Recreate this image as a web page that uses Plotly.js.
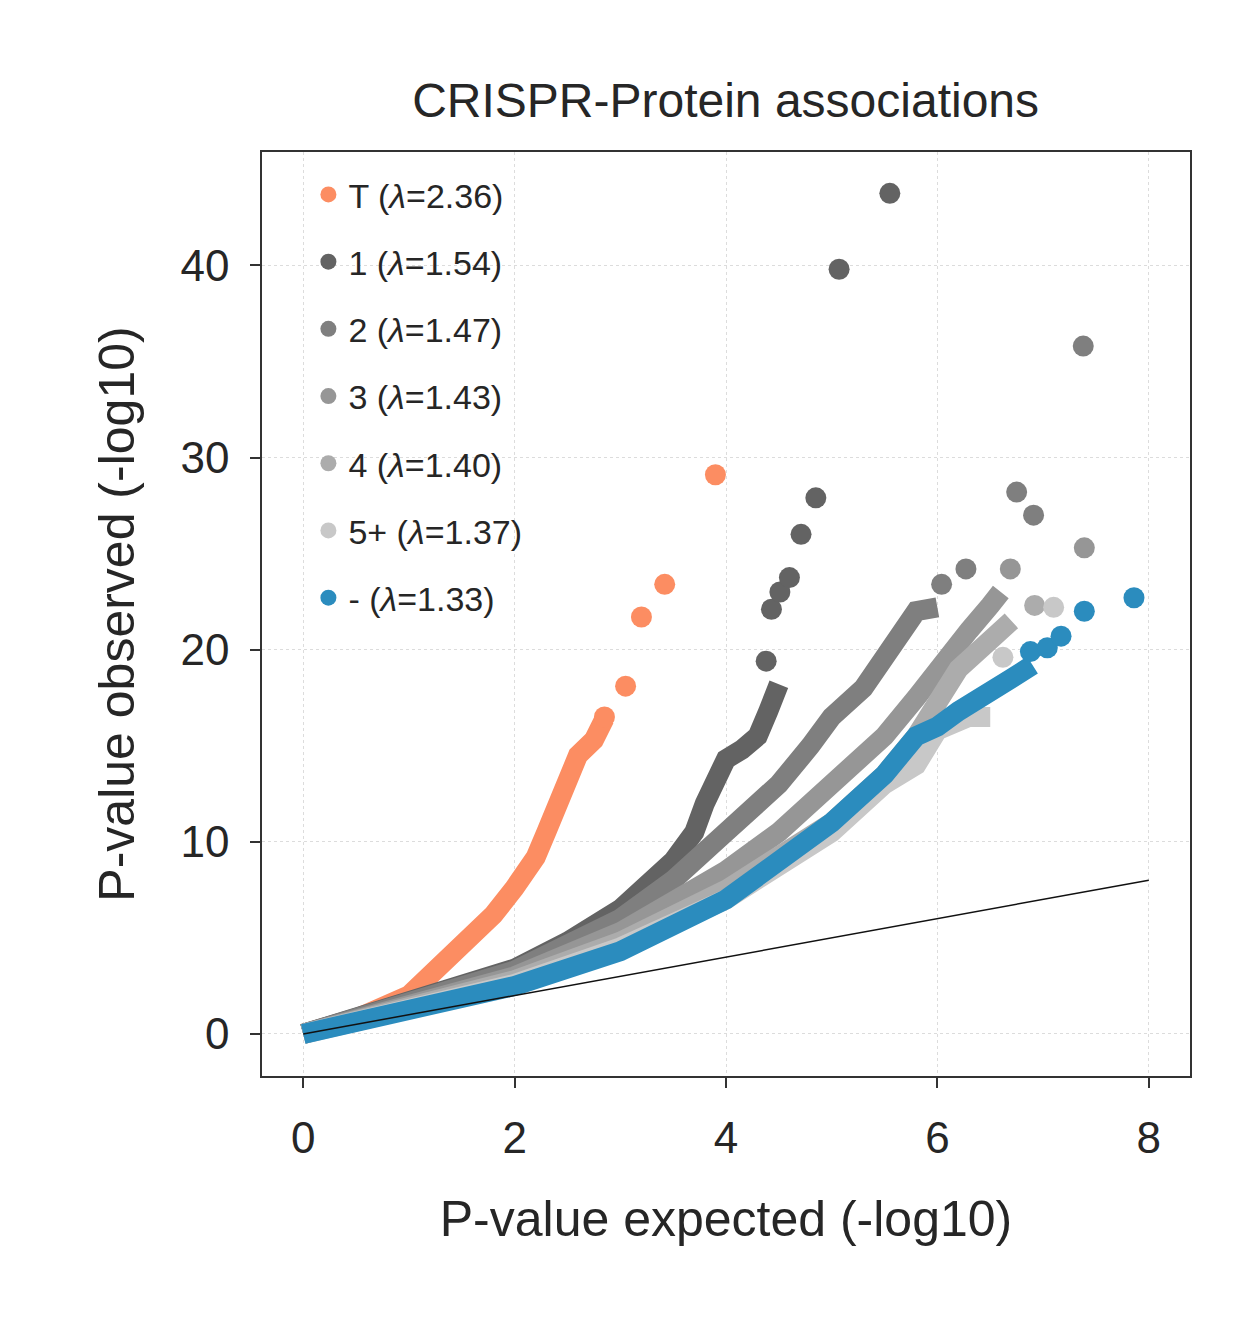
<!DOCTYPE html>
<html>
<head>
<meta charset="utf-8">
<script src="https://cdn.plot.ly/plotly-3.0.1.min.js"></script>
<style>body{margin:0;background:#fff}</style>
</head>
<body>
<div id="qqDiv" style="width:1251px;height:1326px"></div>
<script>
// series names, colours and lambda values
const names = ['T', '1', '2', '3', '4', '5+', '-'];
const lambdas = ['2.36', '1.54', '1.47', '1.43', '1.40', '1.37', '1.33'];
const colors = ['#fc8d62', '#636363', '#7f7f7f', '#969696', '#acacac', '#c8c8c8', '#2b8cbe'];

// dense part of each QQ curve (expected, observed)
const denseX = [
  [0, 0.5, 1, 1.3, 1.5, 1.8, 2.0, 2.2, 2.3, 2.4, 2.5, 2.6, 2.75, 2.85],
  [0, 1, 2, 2.5, 3, 3.5, 3.7, 3.8, 3.9, 4.0, 4.15, 4.3, 4.4, 4.5],
  [0, 2, 3, 3.5, 4, 4.5, 4.8, 5, 5.3, 5.5, 5.7, 5.8, 6.0],
  [0, 2, 3, 4, 4.5, 5, 5.5, 5.8, 6, 6.3, 6.5, 6.6],
  [0, 2, 3, 4, 5, 5.5, 5.8, 6.2, 6.5, 6.7],
  [0, 2, 3, 4, 5, 5.5, 5.8, 6.0, 6.3, 6.5],
  [0, 1, 2, 3, 4, 5, 5.5, 5.8, 6.0, 6.2, 6.5, 6.7, 6.9]
];
const denseY = [
  [0, 0.8, 2.0, 3.5, 4.6, 6.2, 7.6, 9.2, 10.5, 12, 13.5, 14.5, 15.3, 16.4],
  [0, 1.6, 3.4, 4.8, 6.5, 9, 10.5, 12, 13.5, 14.3, 14.8, 15.5, 16.8, 18.2],
  [0, 3.3, 6, 8, 10.5, 13, 15, 16.5, 18, 19.5, 21, 22, 22.2],
  [0, 3.0, 5.3, 8.5, 10.5, 13, 15.5, 17.5, 19, 21, 22.3, 23],
  [0, 2.8, 4.8, 7.5, 11, 13.5, 15.5, 19, 20.5, 21.5],
  [0, 2.6, 4.5, 7, 10.5, 13, 14, 15.8, 16.5, 16.5],
  [0, 1.2, 2.5, 4.3, 7, 11, 13.5, 15.5, 16, 16.8, 18, 18.5, 19.2]
];

// sparse tail points
const tailX = [
  [2.85, 3.05, 3.2, 3.42, 3.9],
  [4.38, 4.43, 4.51, 4.6, 4.71, 4.85, 5.07, 5.55],
  [6.04, 6.27, 6.75, 6.91, 7.38],
  [6.69, 7.39],
  [6.92],
  [6.62, 7.1],
  [6.88, 7.04, 7.17, 7.39, 7.86]
];
const tailY = [
  [16.5, 18.1, 21.7, 23.4, 29.1],
  [19.4, 22.1, 23.0, 23.75, 26, 27.9, 39.8, 43.75],
  [23.4, 24.2, 28.2, 27, 35.8],
  [24.2, 25.3],
  [22.3],
  [19.6, 22.2],
  [19.9, 20.1, 20.7, 22, 22.7]
];

const diagX = [0, 8];
const diagY = [0, 8];

let data = [];
for (let i = 0; i < names.length; i++) {
  data.push({
    x: denseX[i], y: denseY[i], mode: 'lines', type: 'scatter',
    line: {color: colors[i], width: 20},
    showlegend: false, hoverinfo: 'skip', legendgroup: 'g' + i
  });
  data.push({
    x: tailX[i], y: tailY[i], mode: 'markers', type: 'scatter',
    name: names[i] + ' (<i>λ</i>=' + lambdas[i] + ')', legendgroup: 'g' + i,
    marker: {color: colors[i], size: 21}
  });
}
data.push({
  x: diagX, y: diagY, mode: 'lines', type: 'scatter',
  line: {color: '#111', width: 1.5}, showlegend: false
});

const axisStyle = {
  showgrid: true, gridcolor: '#dcdcdc', gridwidth: 1, griddash: 'dot',
  zeroline: false, showline: true, mirror: true, linecolor: '#333', linewidth: 1.5,
  ticks: 'outside', ticklen: 10, tickcolor: '#333', tickwidth: 1.5,
  tickfont: {size: 44, color: '#262626'}, ticklabelstandoff: 12
};

const layout = {
  width: 1251, height: 1326,
  margin: {l: 262, r: 61, t: 152, b: 250},
  paper_bgcolor: '#fff', plot_bgcolor: '#fff',
  font: {family: 'Liberation Sans, Arial, sans-serif', color: '#262626'},
  title: {text: 'CRISPR-Protein associations', font: {size: 48}, x: 0.58, y: 0.937, xanchor: 'center'},
  xaxis: Object.assign({}, axisStyle, {
    range: [-0.39, 8.39], tickvals: [0, 2, 4, 6, 8],
    title: {text: 'P-value expected (-log10)', font: {size: 50}, standoff: 40}
  }),
  yaxis: Object.assign({}, axisStyle, {
    range: [-2.19, 45.9], tickvals: [0, 10, 20, 30, 40],
    title: {text: 'P-value observed (-log10)', font: {size: 50}, standoff: 30}
  }),
  legend: {x: 0.05, y: 0.985, xanchor: 'left', yanchor: 'top', font: {size: 34},
           bgcolor: 'rgba(0,0,0,0)', tracegroupgap: 20}
};

Plotly.newPlot('qqDiv', data, layout, {displayModeBar: false});
</script>
</body>
</html>
